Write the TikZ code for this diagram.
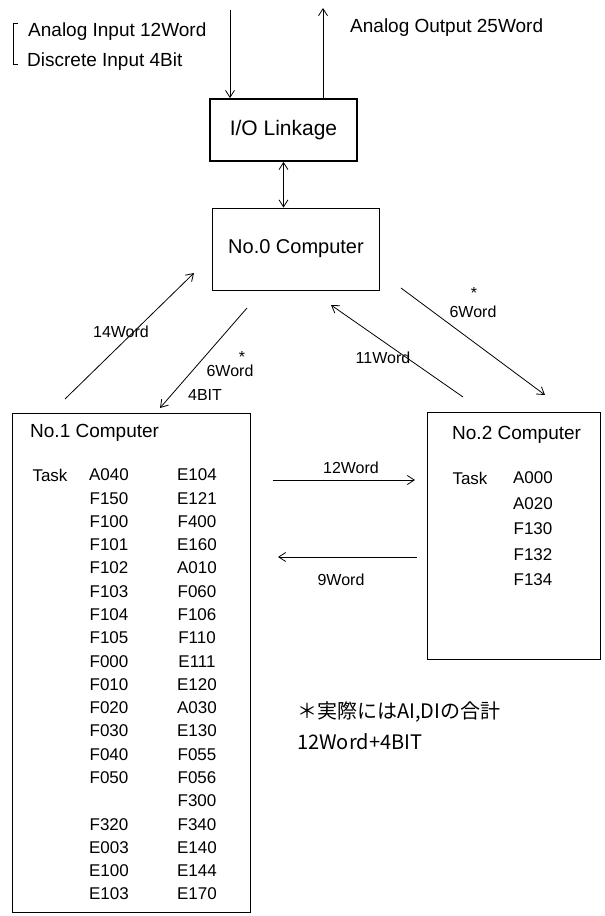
\documentclass[tikz,border=0pt]{standalone}
\usepackage{fontspec}
\setmainfont{Liberation Sans}
\newfontfamily\jpfont{Noto Sans CJK JP}
\usetikzlibrary{arrows.meta,calc,positioning}

\begin{document}
\begin{tikzpicture}[x=1pt,y=-1pt,>={Straight Barb[length=7pt,width=9pt]},
    box/.style={draw,line width=0.9pt,inner sep=0pt},
    lbl/.style={inner sep=0pt,font=\fontsize{19}{22}\selectfont},
    item/.style={inner sep=0pt,font=\fontsize{17}{20}\selectfont},
    wlbl/.style={inner sep=0pt,font=\fontsize{16}{19}\selectfont},
    flow/.style={->,line width=0.8pt}]
    \useasboundingbox (0,0) rectangle (605,916);
    % --- boxes ---
    \node[box,line width=1.8pt,minimum width=147pt,minimum height=62pt,
      font=\fontsize{21}{24}\selectfont] (io) at (283.5,130) {I/O Linkage};
    \node[box,minimum width=167pt,minimum height=82pt,
      font=\fontsize{20}{23}\selectfont] (comp0) at (296,249) {No.0 Computer};
    \node[box,minimum width=238pt,minimum height=499pt] (comp1) at (131,662.5) {};
    \node[box,minimum width=173pt,minimum height=247pt] (comp2) at (513.5,535.5) {};
    % --- external I/O ---
    \draw[line width=1pt] (18,23) -- (13,23) -- (13,64) -- (18,64);
    \node[lbl,anchor=west] (ain) at (28,32) {Analog Input 12Word};
    \node[lbl,anchor=west] (din) at (27,62) {Discrete Input 4Bit};
    \node[lbl,anchor=west] (aout) at (350,28) {Analog Output 25Word};
    \coordinate (in0) at (230,10);
    \coordinate (out0) at (323,8);
    \draw[flow] (in0) -- (in0 |- io.north);
    \draw[flow] (out0 |- io.north) -- (out0);
    \draw[flow,<->] (io.south) -- (io.south |- comp0.north);
    % --- links between computers ---
    \coordinate (p14a) at (65,399);   \coordinate (p14b) at (194,273);
    \coordinate (p6a) at (247,308);   \coordinate (p6b) at (160,408);
    \coordinate (p11a) at (463,397);  \coordinate (p11b) at (331,305);
    \coordinate (p6c) at (401,288);   \coordinate (p6d) at (545,395);
    \coordinate (p12a) at (273,480);  \coordinate (p12b) at (415,480);
    \coordinate (p9a) at (417,557);   \coordinate (p9b) at (278,557);
    \draw[flow] (p14a) -- (p14b);
    \draw[flow] (p6a) -- (p6b);
    \draw[flow] (p11a) -- (p11b);
    \draw[flow] (p6c) -- (p6d);
    \draw[flow] (p12a) -- (p12b);
    \draw[flow] (p9a) -- (p9b);
    \node[wlbl] (w14) at (121,332) {14Word};
    \node[wlbl] (s6a) at (242,357) {*};
    \node[wlbl] (w6a) at (230,371) {6Word};
    \node[wlbl] (b4) at (205,395) {4BIT};
    \node[wlbl] (w11) at (383,358) {11Word};
    \node[wlbl] (s6b) at (474,293) {*};
    \node[wlbl] (w6b) at (473,312) {6Word};
    \node[wlbl] (w12) at (351,468) {12Word};
    \node[wlbl] (w9) at (341,580) {9Word};
    % --- No.1 Computer ---
    \node[lbl,anchor=west] (t1) at (30,433) {No.1 Computer};
    \node[item] (task1) at (50,475) {Task};
    \foreach \a/\b [count=\i from 0] in {A040/E104,F150/E121,F100/F400,
        F101/E160,F102/A010,F103/F060,F104/F106,F105/F110,F000/E111,
        F010/E120,F020/A030,F030/E130,F040/F055,F050/F056,{}/F300,
        F320/F340,E003/E140,E100/E144,E103/E170}
      {
      \node[item] (ta\i) at (109,{475+23.28*\i}) {\a};
      \node[item] (tb\i) at (197,{475+23.28*\i}) {\b};
      }
    % --- No.2 Computer ---
    \node[lbl,anchor=west] (t2) at (452,435) {No.2 Computer};
    \node[item] (task2) at (470,478) {Task};
    \foreach \c [count=\i from 0] in {A000,A020,F130,F132,F134}
      \node[item] (tc\i) at (533,{478+25.5*\i}) {\c};
    % --- note ---
    \node[lbl,anchor=west,font=\jpfont\fontsize{20}{23}\selectfont] (n1) at (297,712)
      {＊実際にはAI,DIの合計};
    \node[lbl,anchor=west,font=\jpfont\fontsize{20}{23}\selectfont] (n2) at (297,742)
      {12Word+4BIT};
  \end{tikzpicture}
\end{document}
